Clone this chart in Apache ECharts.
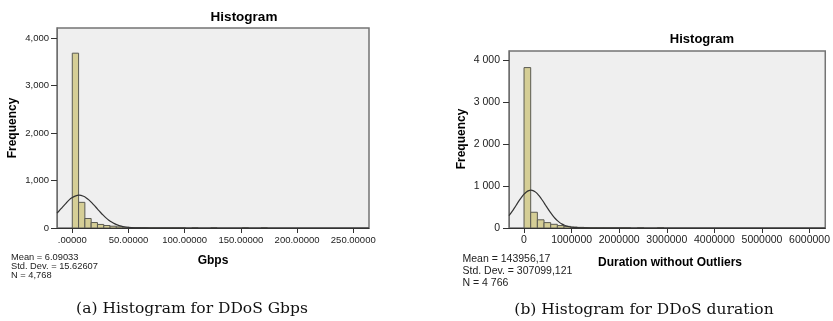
<!DOCTYPE html>
<html><head><meta charset="utf-8">
<script src="https://cdn.jsdelivr.net/npm/echarts@6/dist/echarts.min.js"></script>
<style>html,body{margin:0;padding:0;background:#fff}#c{width:833px;height:321px}</style>
</head><body><div id="c"></div><script>
// ---- (a) DDoS Gbps ----
const gbpsBinWidth = 5.6;
const gbpsCounts = [3680, 540, 200, 115, 75, 52, 38, 24, 15, 10, 7, 5, 3, 2, 2, 1, 1, 1, 0, 1, 0, 0, 1, 0, 0, 0, 0, 1, 0, 0, 1];
const gbpsCurveX = [-13.6, -12, -10, -7.5, -5, -2.5, 0, 2.5, 6.09, 10, 12.5, 15, 17.5, 20, 22.5, 25, 27.5, 30, 32.5, 35, 37.5, 40, 42.5, 45, 47.5, 50, 55, 60, 70, 264];
const gbpsCurveY = [312, 353, 406, 473, 536, 598, 640, 672, 690, 668, 634, 587, 529, 464, 398, 332, 270, 214, 165, 124, 92, 65, 46, 32, 21, 13, 5, 2, 0, 0];
const gbpsXTicks = [0, 50, 100, 150, 200, 250];
const gbpsXLabels = ['.00000', '50.00000', '100.00000', '150.00000', '200.00000', '250.00000'];
const gbpsYTicks = [0, 1000, 2000, 3000, 4000];
const gbpsYLabels = ['0', '1,000', '2,000', '3,000', '4,000'];
const gbpsStats = ['Mean = 6.09033', 'Std. Dev. = 15.62607', 'N = 4,768'];

// ---- (b) DDoS duration ----
const durBinWidth = 140000;
const durCounts = [3820, 375, 195, 128, 88, 58, 38, 24, 15, 10, 6, 4, 2, 1, 1, 1, 0, 1, 0, 0, 1];
const durCurveX = [-316000, -250000, -200000, -150000, -100000, -50000, 0, 50000, 100000, 144000, 200000, 250000, 300000, 350000, 400000, 450000, 500000, 550000, 600000, 650000, 700000, 750000, 800000, 850000, 900000, 950000, 1000000, 1050000, 1100000, 1200000, 1300000, 1500000, 6330000];
const durCurveY = [293, 395, 481, 569, 657, 737, 806, 859, 891, 900, 885, 848, 791, 719, 636, 548, 460, 376, 299, 232, 175, 128, 92, 64, 43, 29, 18, 12, 7, 2.4, 0.8, 0, 0];
const durXTicks = [0, 1000000, 2000000, 3000000, 4000000, 5000000, 6000000];
const durXLabels = ['0', '1000000', '2000000', '3000000', '4000000', '5000000', '6000000'];
const durYTicks = [0, 1000, 2000, 3000, 4000];
const durYLabels = ['0', '1 000', '2 000', '3 000', '4 000'];
const durStats = ['Mean = 143956,17', 'Std. Dev. = 307099,121', 'N = 4 766'];

const FONT = 'Liberation Sans, Arial, sans-serif';
const barFill = '#d5ce96';
const barStroke = '#5a5a52';

function binData(width, counts) {
  return counts.map((c, i) => [i * width, (i + 1) * width, c]);
}
function renderBar(params, api) {
  const p0 = api.coord([api.value(0), api.value(2)]);
  const p1 = api.coord([api.value(1), 0]);
  if (api.value(2) <= 0) return null;
  return {
    type: 'rect',
    shape: { x: p0[0], y: p0[1], width: p1[0] - p0[0], height: p1[1] - p0[1] },
    style: { fill: barFill, stroke: barStroke, lineWidth: 1 }
  };
}
function xAxisCfg(idx, min, max, ticks, labels, fs, margin) {
  return {
    type: 'value', gridIndex: idx, min: min, max: max,
    axisLine: { show: true, onZero: false, lineStyle: { color: '#333', width: 1 } },
    axisTick: { show: true, customValues: ticks, length: 5, lineStyle: { color: '#333' } },
    axisLabel: { customValues: ticks, formatter: v => labels[ticks.indexOf(v)], color: '#222', fontSize: fs, fontFamily: FONT, margin: margin },
    splitLine: { show: false }
  };
}
function yAxisCfg(idx, max, ticks, labels, fs, margin) {
  return {
    type: 'value', gridIndex: idx, min: 0, max: max,
    axisLine: { show: true, onZero: false, lineStyle: { color: '#6e6e6e', width: 1 } },
    axisTick: { show: true, customValues: ticks, length: 6, lineStyle: { color: '#333' } },
    axisLabel: { customValues: ticks, formatter: v => labels[ticks.indexOf(v)], color: '#222', fontSize: fs, fontFamily: FONT, margin: margin },
    splitLine: { show: false }
  };
}
function txt(x, y, text, size, opts) {
  return Object.assign({
    type: 'text', x: x, y: y,
    style: { text: text, fontSize: size, fontFamily: FONT, fill: '#111', align: 'center', verticalAlign: 'middle', fontWeight: 'normal' }
  }, opts || {});
}

const chart = echarts.init(document.getElementById('c'), null, { renderer: 'canvas' });
const graphics = [
  txt(244, 17, 'Histogram', 13.5, {}),
  txt(702, 39, 'Histogram', 13, {}),
  txt(213, 261, 'Gbps', 12, {}),
  txt(670, 263, 'Duration without Outliers', 12, {}),
  txt(12.5, 128, 'Frequency', 12, { rotation: Math.PI / 2 }),
  txt(461.5, 139, 'Frequency', 12, { rotation: Math.PI / 2 }),
];
graphics.forEach(g => { g.style.fontWeight = 'bold'; g.style.fill = '#000'; });
gbpsStats.forEach((s, i) => graphics.push(txt(11, 257.3 + i * 9.3, s, 9, { style: { text: s, fontSize: 9.3, fontFamily: FONT, fill: '#222', align: 'left', verticalAlign: 'middle' } })));
durStats.forEach((s, i) => graphics.push(txt(462.5, 259.3 + i * 12, s, 10.5, { style: { text: s, fontSize: 10.5, fontFamily: FONT, fill: '#222', align: 'left', verticalAlign: 'middle' } })));
graphics.push({ type: 'text', x: 192, y: 309, style: { text: '(a) Histogram for DDoS Gbps', fontSize: 15.5, fontFamily: 'DejaVu Serif, serif', fill: '#111', align: 'center', verticalAlign: 'middle' } });
graphics.push({ type: 'text', x: 644, y: 310, style: { text: '(b) Histogram for DDoS duration', fontSize: 15.5, fontFamily: 'DejaVu Serif, serif', fill: '#111', align: 'center', verticalAlign: 'middle' } });

chart.setOption({
  animation: false,
  backgroundColor: '#fff',
  grid: [
    { left: 57, top: 28, width: 312, height: 200, show: true, backgroundColor: '#efefef', borderColor: '#747474', borderWidth: 1.5 },
    { left: 509, top: 51, width: 322, height: 177, show: true, backgroundColor: '#efefef', borderColor: '#747474', borderWidth: 1.5 }
  ],
  xAxis: [
    xAxisCfg(0, -13.6, 264, gbpsXTicks, gbpsXLabels, 9.5, 7),
    xAxisCfg(1, -316000, 6330000, durXTicks, durXLabels, 10.5, 7)
  ],
  yAxis: [
    yAxisCfg(0, 4210, gbpsYTicks, gbpsYLabels, 9.5, 8),
    yAxisCfg(1, 4215, durYTicks, durYLabels, 10.5, 9)
  ],
  series: [
    { type: 'custom', xAxisIndex: 0, yAxisIndex: 0, renderItem: renderBar, encode: { x: [0, 1], y: 2 }, data: binData(gbpsBinWidth, gbpsCounts), clip: true },
    { type: 'line', xAxisIndex: 0, yAxisIndex: 0, data: gbpsCurveX.map((x, i) => [x, gbpsCurveY[i]]), smooth: 0.3, symbol: 'none', lineStyle: { color: '#333', width: 1.2 }, clip: true },
    { type: 'custom', xAxisIndex: 1, yAxisIndex: 1, renderItem: renderBar, encode: { x: [0, 1], y: 2 }, data: binData(durBinWidth, durCounts), clip: true },
    { type: 'line', xAxisIndex: 1, yAxisIndex: 1, data: durCurveX.map((x, i) => [x, durCurveY[i]]), smooth: 0.3, symbol: 'none', lineStyle: { color: '#333', width: 1.2 }, clip: true }
  ],
  graphic: graphics
});
</script></body></html>
